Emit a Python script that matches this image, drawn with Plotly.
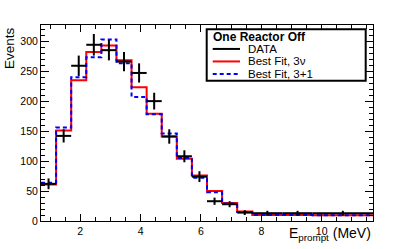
import plotly.graph_objects as go

# ---- data ----
bin_edges = [0.7, 1.2, 1.7, 2.2, 2.7, 3.2, 3.7, 4.2, 4.7, 5.2, 5.7, 6.2, 6.7, 7.2, 7.7, 8.7, 9.7, 11.7]
data_events = [62, 142, 259, 294, 285, 266, 247, 200, 141, 108, 74, 33, 28, 14, 13, 13, 13]
data_errors = [9, 11, 17, 18, 17, 16, 16, 14, 12, 10, 9, 6, 5, 4, 4, 4, 4]
fit_3nu = [61, 151, 235, 282, 293, 268, 223, 179, 141, 104, 76, 50, 30, 16, 10, 10, 9.5]
fit_3p1 = [64, 156, 240, 273, 303, 263, 207, 178, 146, 105, 72, 48, 29, 15, 10, 10, 9.5]

legend_title = "One Reactor Off"
legend_labels = ["DATA", "Best Fit, 3\u03bd", "Best Fit, 3+1"]

centers = [(a + b) / 2 for a, b in zip(bin_edges[:-1], bin_edges[1:])]
half_w = [(b - a) / 2 for a, b in zip(bin_edges[:-1], bin_edges[1:])]

FONT = "Liberation Sans, Arial, Helvetica, sans-serif"
W, H = 415, 249
L, R, T, B = 41, 373, 25, 224


def px(x):
    return (x - L) / (R - L)


def py(y):
    return (B - y) / (B - T)


fig = go.Figure()

fig.add_trace(go.Scatter(
    x=bin_edges, y=fit_3nu + [fit_3nu[-1]], mode="lines", line_shape="hv",
    line=dict(color="#ff0000", width=2), showlegend=False, hoverinfo="skip"))
fig.add_trace(go.Scatter(
    x=bin_edges, y=fit_3p1 + [fit_3p1[-1]], mode="lines", line_shape="hv",
    line=dict(color="#0000ff", width=2, dash="4px,3px"), showlegend=False, hoverinfo="skip"))
fig.add_trace(go.Scatter(
    x=centers, y=data_events, mode="markers",
    marker=dict(size=1, color="black"),
    error_x=dict(type="data", array=half_w, color="black", thickness=2, width=0),
    error_y=dict(type="data", array=data_errors, color="black", thickness=2, width=0),
    showlegend=False))

shapes = []
annotations = []

# legend box
shapes.append(dict(type="rect", xref="paper", yref="paper",
                   x0=px(206.7), x1=px(365.7), y0=py(81.7), y1=py(29.3),
                   line=dict(color="black", width=2), fillcolor="white", layer="above"))
row_y = [49.3, 62.0, 74.7]
line_styles = [dict(color="black", width=2),
               dict(color="#ff0000", width=2),
               dict(color="#0000ff", width=2, dash="4px,3px")]
for yy, st in zip(row_y, line_styles):
    shapes.append(dict(type="line", xref="paper", yref="paper",
                       x0=px(212.7), x1=px(240), y0=py(yy), y1=py(yy),
                       line=st, layer="above"))
annotations.append(dict(text="<b>" + legend_title + "</b>", xref="paper", yref="paper",
                        x=px(210.5), y=py(36.7), xanchor="left", yanchor="middle",
                        showarrow=False, font=dict(family=FONT, size=12, color="black")))
for yy, lab in zip(row_y, legend_labels):
    annotations.append(dict(text=lab, xref="paper", yref="paper",
                            x=px(245.5), y=py(yy), xanchor="left", yanchor="middle",
                            showarrow=False, font=dict(family=FONT, size=11.5, color="black")))

# axis titles
annotations.append(dict(text="E<sub>prompt</sub> (MeV)", xref="paper", yref="paper",
                        x=1.0, y=py(248), xanchor="right", yanchor="bottom",
                        showarrow=False, font=dict(family=FONT, size=14, color="black")))
annotations.append(dict(text="Events", xref="paper", yref="paper", textangle=-90,
                        x=px(9), y=1.0, xanchor="center", yanchor="top",
                        showarrow=False, font=dict(family=FONT, size=13.5, color="black")))

fig.update_layout(
    width=W, height=H,
    margin=dict(l=L, r=W - R, t=T, b=H - B, pad=0),
    paper_bgcolor="white", plot_bgcolor="white",
    font=dict(family=FONT, size=10, color="black"),
    showlegend=False,
    shapes=shapes, annotations=annotations,
    xaxis=dict(range=[0.7, 11.7], showgrid=False, zeroline=False,
               showline=True, linecolor="black", linewidth=1, mirror="ticks",
               ticks="inside", ticklen=7, tickcolor="black", tickwidth=1,
               tick0=0, dtick=2,
               minor=dict(dtick=0.5, ticks="inside", ticklen=4, tickcolor="black", showgrid=False),
               tickfont=dict(family=FONT, size=10.5, color="black")),
    yaxis=dict(range=[0, 327], showgrid=False, zeroline=False,
               showline=True, linecolor="black", linewidth=1, mirror="ticks",
               ticks="inside", ticklen=8, tickcolor="black", tickwidth=1,
               tick0=0, dtick=50,
               minor=dict(dtick=10, ticks="inside", ticklen=4, tickcolor="black", showgrid=False),
               tickfont=dict(family=FONT, size=10.5, color="black")),
)

fig.write_html("out.html", config={"displayModeBar": False},
               post_script="document.body.style.margin='0px';")
